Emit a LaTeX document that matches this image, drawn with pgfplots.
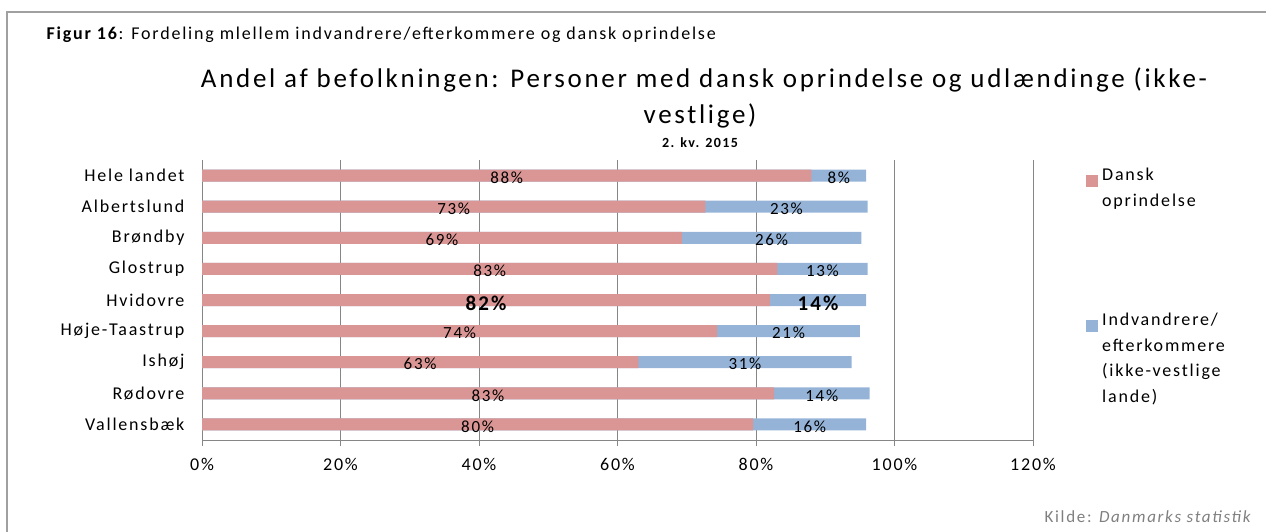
\documentclass[border=0pt]{standalone}
\usepackage{fontspec}
\setmainfont{Carlito}[LetterSpace=10]
\usepackage{pgfplots}
\pgfplotsset{compat=1.18}
\usepackage{pgfplotstable}
\definecolor{redbar}{HTML}{D99694}
\definecolor{bluebar}{HTML}{95B3D7}
\definecolor{gridc}{HTML}{868686}
\definecolor{framec}{HTML}{A0A0A0}
\definecolor{kildec}{HTML}{7F7F7F}

% idx red blue (share of population, %)
\pgfplotstableread{
idx red blue
1 88.0 7.9
2 72.7 23.4
3 69.3 25.9
4 83.1 13.0
5 82.0 13.9
6 74.4 20.6
7 63.0 30.8
8 82.6 13.8
9 79.6 16.3
}\data

\begin{document}
\begin{tikzpicture}[x=1pt,y=1pt]
\useasboundingbox (0,0) rectangle (1266,532);
\draw[framec, line width=1.5pt] (7,-20) -- (7,520) -- (1290,520);

\node[anchor=west, font=\fontsize{18}{21}\selectfont] at (43,497) {\textbf{Figur 16}: Fordeling mlellem indvandrere/efterkommere og dansk oprindelse};
\node[font=\fontsize{27}{32}\selectfont] at (704,452) {Andel af befolkningen: Personer med dansk oprindelse og udlændinge (ikke-};
\node[font=\fontsize{27}{32}\selectfont] at (700,416) {vestlige)};
\node[font=\bfseries\fontsize{14}{17}\selectfont] at (700,389) {2. kv. 2015};

\begin{axis}[
  at={(202pt,92pt)}, anchor=south west,
  scale only axis, width=831pt, height=280pt,
  xmin=0, xmax=120, ymin=0.5, ymax=9.5,
  y dir=reverse,
  axis lines*=left,
  axis line style={gridc, line width=1pt},
  xtick={0,20,...,120},
  xticklabel={\pgfmathprintnumber{\tick}\%},
  xmajorgrids,
  grid style={gridc, line width=1pt},
  tick align=outside,
  major tick length=6pt,
  tick style={gridc, line width=1pt},
  ytick={1,...,9},
  yticklabels={Hele landet,Albertslund,Brøndby,Glostrup,Hvidovre,Høje-Taastrup,Ishøj,Rødovre,Vallensbæk},
  ytick style={draw=none},
  extra y ticks={0.5,1.5,...,9.5},
  extra y tick labels={},
  extra y tick style={tick style={draw=gridc, line width=1pt}, major tick length=6pt},
  /pgf/number format/assume math mode=true,
  ticklabel style={font=\fontsize{18}{21}\selectfont},
  yticklabel style={xshift=-8pt},
  xticklabel style={yshift=-9pt},
  clip=false,
]
\addplot[xbar, bar width=12pt, bar shift=0pt, fill=bluebar, draw=none]
  table[x expr=\thisrow{red}+\thisrow{blue}, y=idx]{\data};
\addplot[xbar, bar width=12pt, bar shift=0pt, fill=redbar, draw=none]
  table[x=red, y=idx]{\data};
% labels, normal size
\addplot[draw=none, mark=none, point meta=\thisrow{red},
  y filter/.expression={y==5 ? nan : y}, unbounded coords=discard,
  nodes near coords={\pgfmathprintnumber[fixed,precision=0]{\pgfplotspointmeta}\%},
  every node near coord/.append style={anchor=center, yshift=-2pt, font=\fontsize{17}{20}\selectfont, text=black}]
  table[x expr=\thisrow{red}/2, y=idx]{\data};
\addplot[draw=none, mark=none, point meta=\thisrow{blue},
  y filter/.expression={y==5 ? nan : y}, unbounded coords=discard,
  nodes near coords={\pgfmathprintnumber[fixed,precision=0]{\pgfplotspointmeta}\%},
  every node near coord/.append style={anchor=center, yshift=-2pt, font=\fontsize{17}{20}\selectfont, text=black}]
  table[x expr=\thisrow{red}+\thisrow{blue}/2, y=idx]{\data};
% labels, Hvidovre (larger)
\addplot[draw=none, mark=none, point meta=\thisrow{red},
  y filter/.expression={y==5 ? y : nan}, unbounded coords=discard,
  nodes near coords={\pgfmathprintnumber[fixed,precision=0]{\pgfplotspointmeta}\%},
  every node near coord/.append style={anchor=center, yshift=-3pt, font=\bfseries\fontsize{21}{24}\selectfont, text=black}]
  table[x expr=\thisrow{red}/2, y=idx]{\data};
\addplot[draw=none, mark=none, point meta=\thisrow{blue},
  y filter/.expression={y==5 ? y : nan}, unbounded coords=discard,
  nodes near coords={\pgfmathprintnumber[fixed,precision=0]{\pgfplotspointmeta}\%},
  every node near coord/.append style={anchor=center, yshift=-3pt, font=\bfseries\fontsize{21}{24}\selectfont, text=black}]
  table[x expr=\thisrow{red}+\thisrow{blue}/2, y=idx]{\data};
\end{axis}

% legend
\fill[redbar] (1086,345) rectangle (1098,357);
\node[anchor=north west, align=left, inner sep=0pt, font=\fontsize{18}{25.5}\selectfont] at (1102,364) {Dansk\\oprindelse};
\fill[bluebar] (1086,200) rectangle (1098,212);
\node[anchor=north west, align=left, inner sep=0pt, font=\fontsize{18}{25.5}\selectfont] at (1102,219) {Indvandrere/\\efterkommere\\(ikke-vestlige\\lande)};

\node[anchor=east, text=kildec, font=\fontsize{17}{20}\selectfont] at (1256,15) {Kilde: \textit{Danmarks statistik}};
\end{tikzpicture}
\end{document}
